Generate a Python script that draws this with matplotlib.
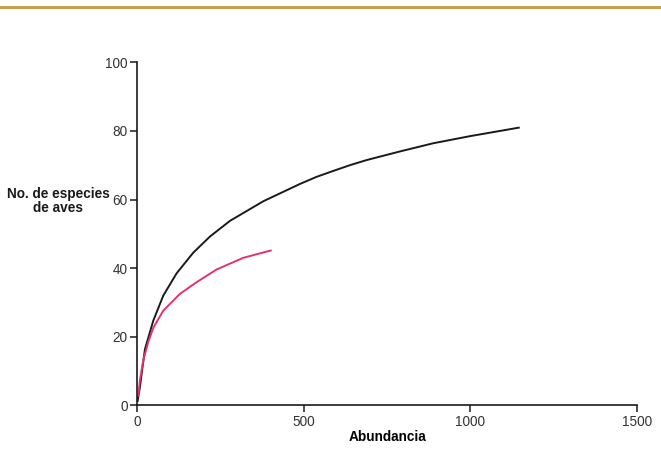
import matplotlib.pyplot as plt
from matplotlib.lines import Line2D

# curva total (negra)
abund_total = [0, 2.4, 7.5, 12.6, 22.5, 47.5, 77.5, 117.6, 167.5, 217.6, 278, 378,
               487, 537.6, 578, 637.6, 688, 787.6, 888, 1000, 1148]
species_total = [1, 2.5, 5.4, 9.3, 16.4, 24.7, 32, 38.5, 44.5, 49.2, 53.8, 59.5,
                 64.5, 66.6, 68, 70, 71.5, 74, 76.4, 78.5, 81]

# curva secundaria (rosa)
abund_sub = [2, 7.5, 17.5, 32.5, 47.5, 77.5, 127.5, 177.6, 237.6, 277.6, 317.6, 403]
species_sub = [2.5, 7.4, 13.2, 18.5, 22.6, 27.6, 32.5, 35.9, 39.6, 41.3, 43, 45.2]

x_ticks = [0, 500, 1000, 1500]
y_ticks = [0, 20, 40, 60, 80, 100]

plt.rcParams["font.family"] = ["Liberation Sans", "DejaVu Sans"]

fig = plt.figure(figsize=(6.61, 4.5), dpi=100)
ax = fig.add_axes([0.208, 0.0993, 0.7556, 0.7622])

ax.plot(abund_total, species_total, color="#1a1a1a", linewidth=1.4,
        solid_joinstyle="round", solid_capstyle="butt")
ax.plot(abund_sub, species_sub, color="#e5336a", linewidth=1.4,
        solid_joinstyle="round", solid_capstyle="butt")

ax.set_xlim(0, 1500)
ax.set_ylim(0, 100)
ax.set_xticks(x_ticks)
ax.set_yticks(y_ticks)
ax.tick_params(axis="both", direction="out", length=5, width=1.1, color="#1a1a1a",
               labelsize=9.8, labelcolor="#333333", pad=2)
for side in ("top", "right"):
    ax.spines[side].set_visible(False)
for side in ("left", "bottom"):
    ax.spines[side].set_linewidth(1.2)
    ax.spines[side].set_color("#1a1a1a")

ax.set_xlabel("Abundancia", fontsize=9.8, fontweight="bold", labelpad=1)
fig.text(0.088, 0.553, "No. de especies\nde aves", fontsize=9.8, fontweight="bold",
         ha="center", va="center", linespacing=0.95, color="#1a1a1a")

# línea dorada superior
fig.add_artist(Line2D([0, 1], [0.9845, 0.9845], transform=fig.transFigure,
                      color="#c89f4c", linewidth=2.2))

fig.savefig("out.png", dpi=100)
